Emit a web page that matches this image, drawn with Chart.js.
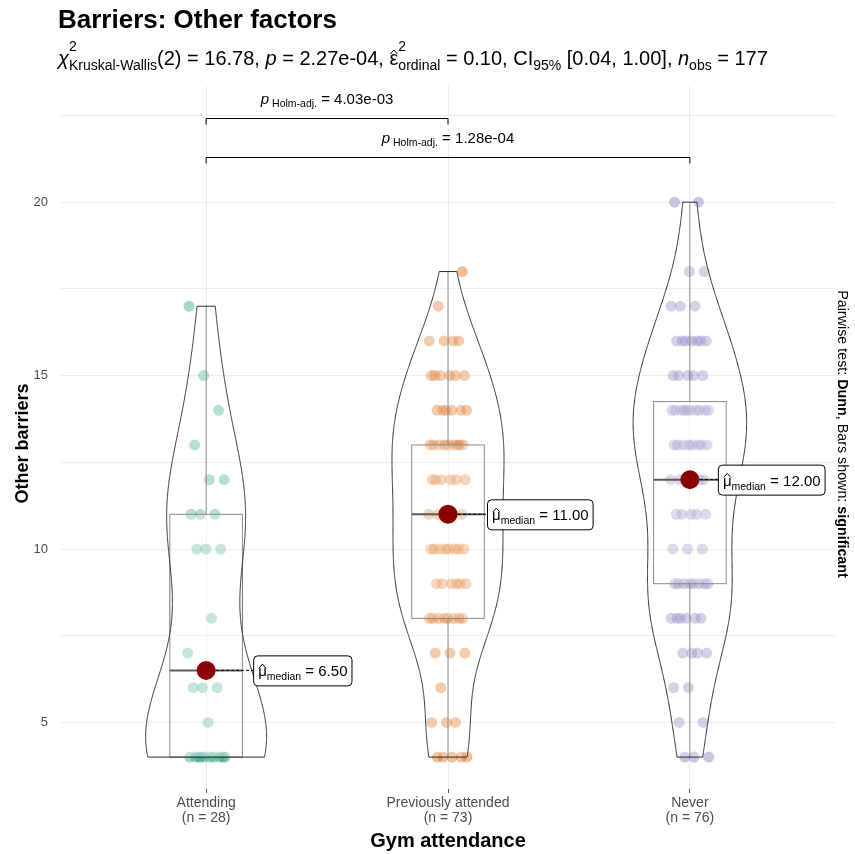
<!DOCTYPE html>
<html>
<head>
<meta charset="utf-8">
<script src="https://cdn.jsdelivr.net/npm/chart.js@4.4.0/dist/chart.umd.min.js"></script>
<style>
  html, body { margin: 0; padding: 0; background: #fff; }
</style>
</head>
<body>
<canvas id="myChart" width="855" height="854"></canvas>
<script>
// data
const categories = ['Attending', 'Previously attended', 'Never'];
const attending = [4, 4, 4, 4, 4, 4, 4, 4, 4, 4, 5, 6, 6, 6, 7, 8, 10, 10, 10, 11, 11, 11, 12, 12, 13, 14, 15, 17];
const previously = [4, 4, 4, 4, 4, 5, 5, 5, 6, 7, 7, 7, 8, 8, 8, 8, 8, 8, 8, 8,
  9, 9, 9, 9, 9, 9, 10, 10, 10, 10, 10, 10, 10, 10, 11, 11, 11, 11, 11, 11,
  12, 12, 12, 12, 12, 12, 13, 13, 13, 13, 13, 13, 13, 13, 13, 14, 14, 14, 14, 14, 14,
  15, 15, 15, 15, 15, 15, 16, 16, 16, 16, 17, 18];
const never = [4, 4, 4, 5, 5, 6, 6, 7, 7, 7, 7, 8, 8, 8, 8, 8, 8,
  9, 9, 9, 9, 9, 9, 9, 9, 10, 10, 10, 11, 11, 11, 11, 11, 12, 12, 12, 12, 12, 12,
  13, 13, 13, 13, 13, 13, 13, 13, 14, 14, 14, 14, 14, 14, 14, 14, 14, 14,
  15, 15, 15, 15, 15, 16, 16, 16, 16, 16, 16, 16, 17, 17, 17, 18, 18, 20, 20];
const groups = [attending, previously, never];
const yTicks = [5, 7.5, 10, 12.5, 15, 17.5, 20, 22.5];
// pairwise brackets: from group, to group, height (y units), label
const pairFrom = [1, 1];
const pairTo = [2, 3];
const pairY = [22.43, 21.31];
const pairP = ['4.03e-03', '1.28e-04'];

// styles
const colors = ['27,158,119', '217,95,2', '117,112,179'];
const labelNudge = [47, 39, 28];
const FAM = '"Liberation Sans", Arial, sans-serif';

// stats helpers
function q(arr, p) {
  const h = (arr.length - 1) * p, lo = Math.floor(h);
  const hi = Math.min(lo + 1, arr.length - 1);
  return arr[lo] + (h - lo) * (arr[hi] - arr[lo]);
}
function sdev(a) {
  const m = a.reduce((t, v) => t + v, 0) / a.length;
  return Math.sqrt(a.reduce((t, v) => t + (v - m) * (v - m), 0) / (a.length - 1));
}
// gaussian kde, bw.nrd0, trimmed to the data range (like geom_violin)
function kde(a) {
  const srt = a.slice().sort((u, v) => u - v);
  const bw = 0.9 * Math.min(sdev(a), (q(srt, 0.75) - q(srt, 0.25)) / 1.34) * Math.pow(a.length, -0.2);
  const mn = srt[0], mx = srt[srt.length - 1], out = [];
  for (let i = 0; i < 512; i++) {
    const y = mn + (mx - mn) * i / 511;
    let d = 0;
    for (const v of a) d += Math.exp(-0.5 * ((y - v) / bw) ** 2);
    out.push({ y: y, d: d / (a.length * bw * Math.sqrt(2 * Math.PI)) });
  }
  return out;
}
const stats = groups.map(a => {
  const srt = a.slice().sort((u, v) => u - v);
  const q1 = q(srt, 0.25), q3 = q(srt, 0.75), iqr = q3 - q1;
  return {
    q1: q1, med: q(srt, 0.5), q3: q3,
    lo: srt.find(v => v >= q1 - 1.5 * iqr),
    hi: srt.slice().reverse().find(v => v <= q3 + 1.5 * iqr),
    dens: kde(a)
  };
});
const densMax = Math.max(...stats.map(st => Math.max(...st.dens.map(p => p.d))));

// jitter only moves points sideways
function jit(k) { return (((k * 0.6180339887 + 0.37) % 1) - 0.5) * 0.16; }

// rich text helpers
function font(p) { return (p.it ? 'italic ' : '') + (p.b ? 'bold ' : '') + p.f + 'px ' + FAM; }
function partW(ctx, p) {
  if (p.stack) return Math.max(...p.stack.map(r => partW(ctx, r)));
  ctx.font = font(p);
  return ctx.measureText(p.t).width;
}
function richW(ctx, parts) { return parts.reduce((t, p) => t + partW(ctx, p), 0); }
function drawHat(ctx, x, w, top) {
  ctx.save();
  ctx.lineWidth = 1;
  ctx.strokeStyle = ctx.fillStyle;
  ctx.beginPath();
  ctx.moveTo(x + w * 0.1, top + 3);
  ctx.lineTo(x + w * 0.5, top - 1);
  ctx.lineTo(x + w * 0.9, top + 3);
  ctx.stroke();
  ctx.restore();
}
function drawRich(ctx, parts, x, y) {
  ctx.textAlign = 'left';
  ctx.textBaseline = 'alphabetic';
  for (const p of parts) {
    if (p.stack) {
      for (const r of p.stack) { ctx.font = font(r); ctx.fillText(r.t, x, y + (r.dy || 0)); }
      x += partW(ctx, p);
    } else {
      ctx.font = font(p);
      ctx.fillText(p.t, x, y + (p.dy || 0));
      const w = ctx.measureText(p.t).width;
      if (p.hat) drawHat(ctx, x, w, y - p.f * 0.55 - 3);
      x += w;
    }
  }
  return x;
}

const S = 20, s = 14;
const subtitleParts = [
  { t: 'χ', f: S, it: true },
  { stack: [{ t: '2', f: s, dy: -14 }, { t: 'Kruskal-Wallis', f: s, dy: 5 }] },
  { t: '(2) = 16.78, ', f: S },
  { t: 'p', f: S, it: true },
  { t: ' = 2.27e-04, ', f: S },
  { t: 'ε', f: S, hat: true },
  { stack: [{ t: '2', f: s, dy: -14 }, { t: 'ordinal', f: s, dy: 5 }] },
  { t: ' = 0.10, CI', f: S },
  { t: '95%', f: s, dy: 5 },
  { t: ' [0.04, 1.00], ', f: S },
  { t: 'n', f: S, it: true },
  { t: 'obs', f: s, dy: 5 },
  { t: ' = 177', f: S }
];

const overlay = {
  id: 'overlay',
  afterDatasetsDraw(chart) {
    const { ctx, scales: { x, y } } = chart;
    ctx.save();
    stats.forEach((st, i) => {
      const c = i + 1;
      const px = x.getPixelForValue(c);
      const unit = x.getPixelForValue(c + 1) - px;
      // box
      const bw = 0.15 * unit;
      const yq1 = y.getPixelForValue(st.q1), yq3 = y.getPixelForValue(st.q3);
      ctx.fillStyle = 'rgba(255,255,255,0.2)';
      ctx.fillRect(px - bw, yq3, 2 * bw, yq1 - yq3);
      ctx.strokeStyle = '#6e6e6e';
      ctx.lineWidth = 1;
      ctx.strokeRect(px - bw, yq3, 2 * bw, yq1 - yq3);
      ctx.beginPath();
      ctx.moveTo(px, yq3); ctx.lineTo(px, y.getPixelForValue(st.hi));
      ctx.moveTo(px, yq1); ctx.lineTo(px, y.getPixelForValue(st.lo));
      ctx.stroke();
      ctx.strokeStyle = '#333';
      ctx.lineWidth = 2;
      ctx.beginPath();
      const ym = y.getPixelForValue(st.med);
      ctx.moveTo(px - bw, ym); ctx.lineTo(px + bw, ym);
      ctx.stroke();
      // violin
      ctx.beginPath();
      st.dens.forEach((p, k) => {
        const xx = px + 0.25 * unit * p.d / densMax, yy = y.getPixelForValue(p.y);
        if (k === 0) ctx.moveTo(xx, yy); else ctx.lineTo(xx, yy);
      });
      for (let k = st.dens.length - 1; k >= 0; k--) {
        const p = st.dens[k];
        ctx.lineTo(px - 0.25 * unit * p.d / densMax, y.getPixelForValue(p.y));
      }
      ctx.closePath();
      ctx.fillStyle = 'rgba(255,255,255,0.2)';
      ctx.fill();
      ctx.strokeStyle = '#2b2b2b';
      ctx.lineWidth = 1;
      ctx.stroke();
    });
    // median dots and labels
    stats.forEach((st, i) => {
      const px = x.getPixelForValue(i + 1), py = y.getPixelForValue(st.med);
      const parts = [
        { t: 'μ', f: 15, hat: true },
        { t: 'median', f: 10.5, dy: 4 },
        { t: ' = ' + st.med.toFixed(2), f: 15 }
      ];
      const lx = px + labelNudge[i], tw = richW(ctx, parts), w = tw + 9, h = 30;
      ctx.strokeStyle = '#000';
      ctx.lineWidth = 1;
      ctx.setLineDash([3, 2]);
      ctx.beginPath();
      ctx.moveTo(px, py); ctx.lineTo(lx, py);
      ctx.stroke();
      ctx.setLineDash([]);
      ctx.fillStyle = '#8B0000';
      ctx.beginPath();
      ctx.arc(px, py, 9.5, 0, Math.PI * 2);
      ctx.fill();
      ctx.fillStyle = '#fff';
      ctx.beginPath();
      ctx.roundRect(lx + 0.5, py - h / 2 + 0.5, w, h, 4);
      ctx.fill();
      ctx.stroke();
      ctx.fillStyle = '#000';
      drawRich(ctx, parts, lx + 5, py + 6);
    });
    // significance brackets
    pairY.forEach((v, i) => {
      const x1 = x.getPixelForValue(pairFrom[i]), x2 = x.getPixelForValue(pairTo[i]);
      const yy = Math.round(y.getPixelForValue(v)) + 0.5;
      ctx.strokeStyle = '#000';
      ctx.lineWidth = 1;
      ctx.beginPath();
      ctx.moveTo(x1, yy + 6); ctx.lineTo(x1, yy); ctx.lineTo(x2, yy); ctx.lineTo(x2, yy + 6);
      ctx.stroke();
      const parts = [
        { t: 'p', f: 15, it: true },
        { t: ' Holm-adj.', f: 10.5, dy: 3 },
        { t: ' = ' + pairP[i], f: 15 }
      ];
      ctx.fillStyle = '#000';
      drawRich(ctx, parts, (x1 + x2) / 2 - richW(ctx, parts) / 2, yy - 15);
    });
    ctx.restore();
  },
  afterDraw(chart) {
    const { ctx, chartArea: a } = chart;
    ctx.save();
    ctx.fillStyle = '#000';
    ctx.textAlign = 'left';
    ctx.textBaseline = 'alphabetic';
    ctx.font = 'bold 26px ' + FAM;
    ctx.fillText('Barriers: Other factors', 58, 28);
    drawRich(ctx, subtitleParts, 58, 65);
    // axis titles
    ctx.textAlign = 'center';
    ctx.font = 'bold 20px ' + FAM;
    ctx.fillText('Gym attendance', (a.left + a.right) / 2, 847);
    ctx.font = 'bold 18px ' + FAM;
    ctx.save();
    ctx.translate(28, (a.top + a.bottom) / 2 + 6);
    ctx.rotate(-Math.PI / 2);
    ctx.fillText('Other barriers', 0, 0);
    ctx.restore();
    // caption on the right
    const cap = [
      { t: 'Pairwise test: ', f: 14.3 },
      { t: 'Dunn', f: 14.3, b: true },
      { t: ', Bars shown: ', f: 14.3 },
      { t: 'significant', f: 14.3, b: true }
    ];
    ctx.save();
    ctx.translate(838, 434);
    ctx.rotate(Math.PI / 2);
    drawRich(ctx, cap, -richW(ctx, cap) / 2, 0);
    ctx.restore();
    ctx.restore();
  }
};

const datasets = groups.map((vals, i) => ({
  data: vals.map((v, k) => ({ x: i + 1 + jit(k), y: v })),
  backgroundColor: 'rgba(' + colors[i] + ',0.4)',
  borderWidth: 0,
  pointRadius: 5.5,
  pointHoverRadius: 5.5
}));

Chart.defaults.font.family = FAM;
const ctx = document.getElementById('myChart').getContext('2d');
const myChart = new Chart(ctx, {
  type: 'scatter',
  data: { datasets: datasets },
  options: {
    responsive: false,
    animation: false,
    events: [],
    layout: { padding: { left: 0, right: 20, top: 86, bottom: 0 } },
    plugins: { legend: { display: false }, tooltip: { enabled: false } },
    scales: {
      x: {
        type: 'linear',
        min: 0.4,
        max: 3.6,
        afterBuildTicks: sc => { sc.ticks = [1, 2, 3].map(v => ({ value: v })); },
        afterFit: sc => { sc.height = 65; },
        ticks: {
          callback: v => [categories[v - 1], '(n = ' + groups[v - 1].length + ')'],
          color: '#4D4D4D',
          font: { size: 14, lineHeight: 1.1 },
          padding: 2,
          maxRotation: 0
        },
        grid: { color: '#EBEBEB', tickColor: '#555', tickLength: 4, drawTicks: true },
        border: { display: false }
      },
      y: {
        type: 'linear',
        min: 3.08,
        max: 23.35,
        afterBuildTicks: sc => { sc.ticks = yTicks.map(v => ({ value: v })); },
        afterFit: sc => { sc.width = 61; },
        ticks: {
          callback: v => (v % 5 === 0 ? String(v) : ''),
          color: '#4D4D4D',
          font: { size: 13 },
          padding: 13
        },
        grid: { color: '#EBEBEB', drawTicks: false },
        border: { display: false }
      }
    }
  },
  plugins: [overlay]
});
</script>
</body>
</html>
